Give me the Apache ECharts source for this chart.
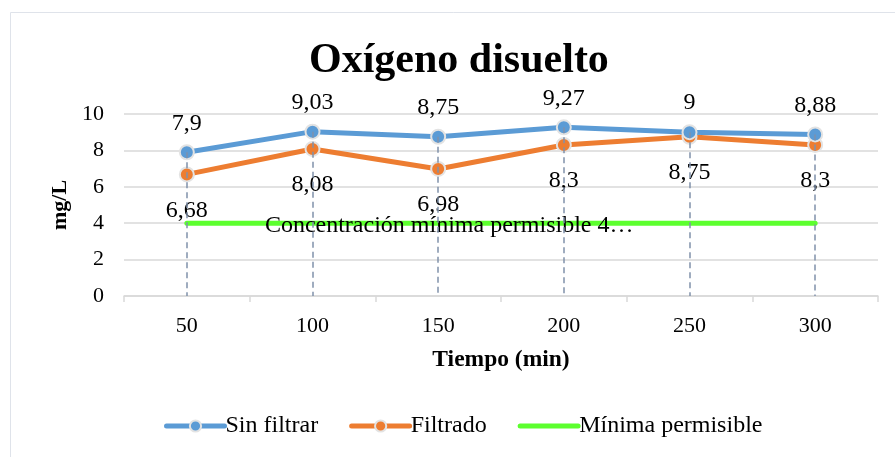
<!DOCTYPE html>
<html>
<head>
<meta charset="utf-8">
<script src="https://cdn.jsdelivr.net/npm/echarts@6/dist/echarts.min.js"></script>
<style>html,body{margin:0;padding:0;background:#fff;}#c{width:895px;height:457px;}</style>
</head>
<body>
<div id="c"></div>
<script>
const categories = ['50', '100', '150', '200', '250', '300'];
const sinFiltrar = [7.9, 9.03, 8.75, 9.27, 9.0, 8.88];
const filtrado = [6.68, 8.08, 6.98, 8.3, 8.75, 8.3];
const minimaPermisible = [4, 4, 4, 4, 4, 4];
const yTicks = { min: 0, max: 10, interval: 2 };
const labelMinima = 'Concentración mínima permisible 4…';

const FONT = '"Liberation Serif", "Times New Roman", serif';
const fmt = v => String(v).replace('.', ',');

const chart = echarts.init(document.getElementById('c'), null, { renderer: 'canvas' });

const dropLines = sinFiltrar.map((v, i) => [
  { coord: [i, v] },
  { coord: [i, 0] }
]);

const minimaData = minimaPermisible.map((v, i) => i === 2 ? {
  value: v,
  label: {
    show: true, position: 'inside', offset: [11, 3],
    fontFamily: FONT, fontSize: 24, color: '#000',
    formatter: () => labelMinima
  }
} : { value: v });

chart.setOption({
  backgroundColor: '#ffffff',
  animation: false,
  textStyle: { fontFamily: FONT, color: '#000' },
  graphic: [{
    type: 'rect',
    shape: { x: 10.5, y: 12.5, width: 900, height: 460 },
    style: { fill: 'none', stroke: '#dfe3ea', lineWidth: 1 },
    z: -10
  }],
  title: {
    text: 'Oxígeno disuelto',
    left: 304,
    top: 35,
    textStyle: { fontFamily: FONT, fontSize: 42, fontWeight: 'bold', color: '#000' }
  },
  legend: {
    data: [
      { name: 'Sin filtrar' },
      { name: 'Filtrado' },
      { name: 'Mínima permisible', itemStyle: { opacity: 0 } }
    ],
    bottom: 14,
    left: 159,
    itemWidth: 58,
    itemHeight: 14,
    itemGap: 31,
    lineStyle: { width: 5, cap: 'round' },
    textStyle: { fontFamily: FONT, fontSize: 24, color: '#000', padding: [0, 0, 0, -4] }
  },
  grid: { left: 124, right: 17, top: 114, bottom: 161, containLabel: false },
  xAxis: {
    type: 'category',
    data: categories,
    boundaryGap: true,
    name: 'Tiempo (min)',
    nameLocation: 'middle',
    nameGap: 64,
    nameTextStyle: { fontFamily: FONT, fontSize: 23.5, fontWeight: 'bold', color: '#000', verticalAlign: 'middle' },
    axisLine: { lineStyle: { color: '#d9d9d9', width: 1.5 } },
    axisTick: { show: true, length: 6, lineStyle: { color: '#d9d9d9', width: 1.5 } },
    axisLabel: { fontFamily: FONT, fontSize: 22, color: '#000', margin: 19 },
    splitLine: { show: false }
  },
  yAxis: {
    type: 'value',
    min: yTicks.min,
    max: yTicks.max,
    interval: yTicks.interval,
    name: 'mg/L',
    nameLocation: 'middle',
    nameGap: 62,
    nameRotate: 90,
    nameTextStyle: { fontFamily: FONT, fontSize: 22, fontWeight: 'bold', color: '#000', verticalAlign: 'middle' },
    axisLine: { show: false },
    axisTick: { show: false },
    axisLabel: { fontFamily: FONT, fontSize: 22, color: '#000', margin: 20 },
    splitLine: { lineStyle: { color: '#d9d9d9', width: 1.5 } }
  },
  series: [
    {
      name: 'Mínima permisible',
      type: 'line',
      data: minimaData,
      symbol: 'circle',
      symbolSize: 0.01,
      showSymbol: true,
      lineStyle: { color: '#5cff2e', width: 5, cap: 'round' },
      itemStyle: { color: '#5cff2e' },
      z: 2
    },
    {
      name: 'Sin filtrar',
      type: 'line',
      data: sinFiltrar,
      symbol: 'circle',
      symbolSize: 14,
      lineStyle: { color: '#5b9bd5', width: 5 },
      itemStyle: { color: '#5b9bd5', borderColor: '#e3e3e3', borderWidth: 2 },
      label: {
        show: true, position: 'top', distance: 9,
        fontFamily: FONT, fontSize: 24, color: '#000',
        formatter: p => fmt(p.value)
      },
      z: 4
    },
    {
      name: 'Filtrado',
      type: 'line',
      data: filtrado,
      symbol: 'circle',
      symbolSize: 14,
      lineStyle: { color: '#ed7d31', width: 5 },
      itemStyle: { color: '#ed7d31', borderColor: '#e3e3e3', borderWidth: 2 },
      label: {
        show: true, position: 'bottom', distance: 16,
        fontFamily: FONT, fontSize: 24, color: '#000',
        formatter: p => fmt(p.value)
      },
      z: 3
    },
    {
      name: 'drop',
      type: 'line',
      data: sinFiltrar,
      showSymbol: false,
      symbol: 'none',
      lineStyle: { opacity: 0 },
      silent: true,
      z: 10,
      markLine: {
        silent: true,
        symbol: ['none', 'none'],
        label: { show: false },
        lineStyle: { type: [6, 4], color: '#8091aa', width: 1.5 },
        data: dropLines
      }
    }
  ]
});
</script>
</body>
</html>
